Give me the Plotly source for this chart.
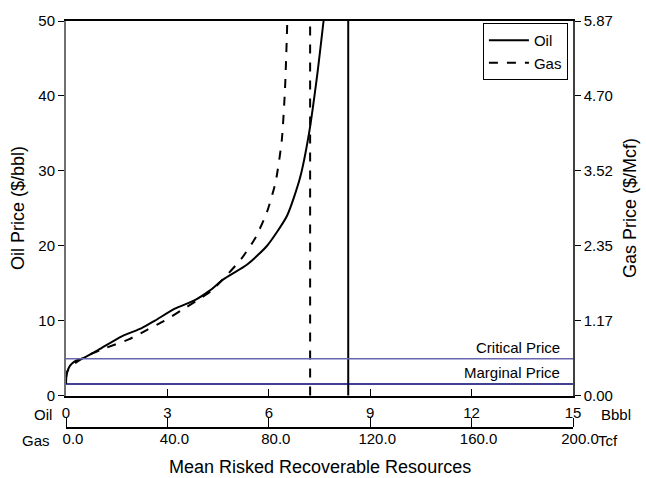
import plotly.graph_objects as go

FONT = "Arial, 'Liberation Sans', sans-serif"

# ---- data ----
oil_resources_bbbl = [0.0, 0.02, 0.12, 0.27, 0.51, 0.96, 1.65, 2.24, 2.63, 3.22, 3.8, 4.25,
                      4.65, 5.36, 5.95, 6.54, 6.92, 7.19, 7.43, 7.62]
oil_price = [1.55, 2.9, 4.0, 4.6, 5.0, 6.1, 7.9, 9.0, 10.0, 11.6, 12.7, 14.0,
             15.5, 17.5, 20.0, 24.0, 29.0, 35.0, 42.7, 50.0]

gas_resources_tcf = [0.0, 0.67, 3.3, 8.0, 16.0, 24.7, 32.0, 38.7, 45.3, 51.3, 57.3, 63.3,
                     69.3, 74.7, 79.3, 82.7, 85.1, 86.4, 87.3]
gas_price = [0.28, 0.39, 0.50, 0.62, 0.75, 0.88, 1.03, 1.17, 1.33, 1.48, 1.64, 1.88,
             2.15, 2.47, 2.88, 3.35, 3.99, 4.81, 5.87]

oil_mean_bbbl = 8.35
gas_mean_tcf = 96.3
critical_price = 4.9
marginal_price = 1.55

oil_res_ticks = [0, 3, 6, 9, 12, 15]
gas_res_ticks = [0, 40, 80, 120, 160, 200]
gas_res_labels = ["0.0", "40.0", "80.0", "120.0", "160.0", "200.0"]
oil_price_ticks = [0, 10, 20, 30, 40, 50]
gas_price_ticks = [0.00, 1.17, 2.35, 3.52, 4.70, 5.87]
gas_price_labels = ["0.00", "1.17", "2.35", "3.52", "4.70", "5.87"]

fig = go.Figure()
fig.add_trace(go.Scatter(x=oil_resources_bbbl, y=oil_price, mode="lines", name="Oil",
                         line=dict(color="black", width=2, shape="spline", smoothing=0.6),
                         xaxis="x", yaxis="y"))
fig.add_trace(go.Scatter(x=gas_resources_tcf, y=gas_price, mode="lines", name="Gas",
                         line=dict(color="black", width=2, dash="dash", shape="spline", smoothing=0.6),
                         xaxis="x2", yaxis="y2"))
# empty trace so the separate "Oil" resource scale axis is drawn
fig.add_trace(go.Scatter(x=[None], y=[None], mode="lines", showlegend=False, hoverinfo="skip",
                         xaxis="x3", yaxis="y"))

shapes = [
    dict(type="line", xref="x", yref="y domain", x0=oil_mean_bbbl, x1=oil_mean_bbbl, y0=0, y1=1,
         line=dict(color="black", width=2)),
    dict(type="line", xref="x2", yref="y domain", x0=gas_mean_tcf, x1=gas_mean_tcf, y0=0, y1=1,
         line=dict(color="black", width=2, dash="dash")),
    dict(type="line", xref="x domain", yref="y", x0=0, x1=1, y0=critical_price, y1=critical_price,
         line=dict(color="#6868b0", width=1.5)),
    dict(type="line", xref="x domain", yref="y", x0=0, x1=1, y0=marginal_price, y1=marginal_price,
         line=dict(color="#000070", width=1.5)),
]

ann_font = dict(family=FONT, size=15, color="black")
annotations = [
    dict(text="Critical Price", xref="x domain", yref="y", x=0.978, y=critical_price,
         xanchor="right", yanchor="bottom", showarrow=False, font=ann_font, yshift=1),
    dict(text="Marginal Price", xref="x domain", yref="y", x=0.978, y=marginal_price,
         xanchor="right", yanchor="bottom", showarrow=False, font=ann_font, yshift=1),
    dict(text="Oil", xref="paper", yref="paper", x=-0.024, y=0.032, xanchor="right", yanchor="middle",
         showarrow=False, font=ann_font),
    dict(text="Gas", xref="paper", yref="paper", x=-0.028, y=-0.031, xanchor="right", yanchor="middle",
         showarrow=False, font=ann_font),
    dict(text="Bbbl", xref="paper", yref="paper", x=1.052, y=0.032, xanchor="left", yanchor="middle",
         showarrow=False, font=ann_font),
    dict(text="Tcf", xref="paper", yref="paper", x=1.046, y=-0.031, xanchor="left", yanchor="middle",
         showarrow=False, font=ann_font),
    dict(text="Mean Risked Recoverable Resources", xref="paper", yref="paper", x=0.5, y=-0.097,
         xanchor="center", yanchor="middle", showarrow=False, font=dict(family=FONT, size=18, color="black")),
    dict(text="Oil Price ($/bbl)", xref="paper", yref="paper", x=-0.095, y=0.54, textangle=-90,
         xanchor="center", yanchor="middle", showarrow=False, font=dict(family=FONT, size=18, color="black")),
    dict(text="Gas Price ($/Mcf)", xref="paper", yref="paper", x=1.112, y=0.54, textangle=-90,
         xanchor="center", yanchor="middle", showarrow=False, font=dict(family=FONT, size=18, color="black")),
]

tickfont = dict(family=FONT, size=15, color="black")
fig.update_layout(
    width=646, height=478,
    margin=dict(l=66, r=73, t=14, b=50),
    paper_bgcolor="white", plot_bgcolor="white",
    showlegend=True,
    legend=dict(x=0.99, xanchor="right", y=0.995, yanchor="top", bordercolor="black", borderwidth=1,
                bgcolor="white", font=dict(family=FONT, size=15, color="black"),
                tracegroupgap=0, itemwidth=40),
    xaxis=dict(range=[0, 15], domain=[0, 1], anchor="y", showgrid=False, zeroline=False,
               showline=True, linecolor="black", linewidth=1.5, mirror=True,
               ticks="inside", tickvals=oil_res_ticks[1:-1], ticklen=7, tickcolor="black",
               showticklabels=False),
    xaxis3=dict(range=[0, 15], overlaying="x", anchor="free", position=0, side="top",
                showgrid=False, zeroline=False,
                showline=True, linecolor="black", linewidth=1.5,
                ticks="outside", tickvals=oil_res_ticks, ticklen=9, tickcolor="black",
                ticklabelstandoff=-6, tickfont=tickfont),
    xaxis2=dict(range=[0, 200], overlaying="x", anchor="free", position=0, showgrid=False, zeroline=False,
                showline=False, ticks="", tickvals=gas_res_ticks, ticktext=gas_res_labels,
                tickfont=tickfont, ticklabelshift=7),
    yaxis=dict(range=[0, 50], domain=[0.0797, 1], anchor="x", showgrid=False, zeroline=False,
               showline=True, linecolor="#707070", linewidth=2,
               ticks="outside", tickvals=oil_price_ticks, ticklen=6, tickcolor="black",
               tickfont=tickfont),
    yaxis2=dict(range=[0, 5.87], overlaying="y", side="right", anchor="x", showgrid=False, zeroline=False,
                showline=True, linecolor="#404040", linewidth=1.5,
                ticks="outside", tickvals=gas_price_ticks, ticktext=gas_price_labels, ticklen=6,
                tickcolor="black", tickfont=tickfont),
    shapes=shapes,
    annotations=annotations,
)

fig.write_html("out.html")
